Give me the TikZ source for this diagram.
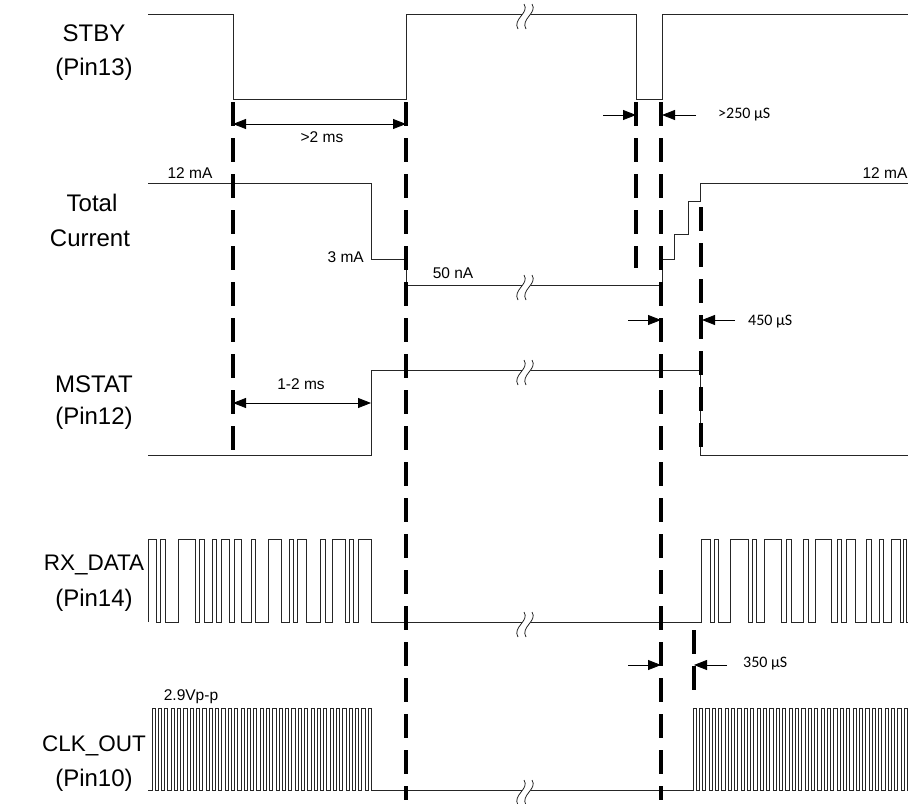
\documentclass[tikz,border=0pt]{standalone}
\usepackage{fontspec}
\setmainfont{Liberation Sans}
\newfontfamily\calfont{Carlito}
\usetikzlibrary{arrows.meta}
\begin{document}
\begin{tikzpicture}[x=1pt,y=-1pt,
  sig/.style={line width=1pt, black!85, line join=miter},
  dsh/.style={line width=3.2pt, black, dash pattern=on 23.5pt off 12.5pt},
  lab/.style={font=\fontsize{24}{28}\selectfont, inner sep=0pt},
  labn/.style={font=\fontsize{22.5}{28}\selectfont, inner sep=0pt},
  small/.style={font=\fontsize{15.5}{18}\selectfont, inner sep=0pt},
  usl/.style={font=\calfont\fontsize{16}{18}\selectfont, inner sep=0pt, anchor=west},
  dim/.style={line width=0.8pt, -{Triangle[length=13pt,width=10pt]}},
  ddim/.style={line width=0.8pt, {Triangle[length=13pt,width=10pt]}-{Triangle[length=13pt,width=10pt]}},
  brk/.pic={
    \fill[white] (3,-10) .. controls (9,-1) and (-9,5) .. (-3,15) -- (5,15) .. controls (-1,5) and (17,-1) .. (11,-10) -- cycle;
    \draw[line width=0.8pt, black!85] (3,-10) .. controls (9,-1) and (-9,5) .. (-3,15);
    \draw[line width=0.8pt, black!85] (11,-10) .. controls (17,-1) and (-1,5) .. (5,15);
  }
]
\useasboundingbox (0,0) rectangle (910,803);

% labels
\node[lab] (l1a) at (94,33) {STBY};
\node[lab] (l1b) at (94,69) {(Pin13)};
\node[lab] (l2a) at (92,203) {Total};
\node[lab] (l2b) at (90,238) {Current};
\node[lab] (l3a) at (94,384) {MSTAT};
\node[lab] (l3b) at (94,418) {(Pin12)};
\node[labn] (l4a) at (94,565) {RX\_DATA};
\node[lab] (l4b) at (94,600) {(Pin14)};
\node[labn] (l5a) at (94,746) {CLK\_OUT};
\node[lab] (l5b) at (94,780) {(Pin10)};

% STBY
\draw[sig] (148,14) -- (233,14) -- (233,99) -- (406,99) -- (406,14) -- (636,14) -- (636,99) -- (662,99) -- (662,14) -- (908,14);
% Total current
\draw[sig] (148,183) -- (371,183) -- (371,259) -- (406,259) -- (406,285) -- (662,285) -- (662,259) -- (674,259) -- (674,234) -- (688,234) -- (688,201) -- (700,201) -- (700,183) -- (908,183);
% MSTAT
\draw[sig] (148,455) -- (371,455) -- (371,370) -- (700,370) -- (700,455) -- (908,455);
% RX_DATA
\draw[sig] (148.3,622)
  \foreach \a/\b in {148.3/156.7, 160.7/165, 178.3/195, 199.3/204, 212.7/216.7, 221/229.3, 234/241.7, 251/255, 268.3/281, 289.3/293.3, 297.7/306.7, 320/325, 332.7/345, 349.3/353.3, 358.3/371.7}
  { -- (\a,622) -- (\a,539) -- (\b,539) -- (\b,622) }
  \foreach \a/\b in {701.7/710, 714/718.3, 730/748.3, 752.7/756.7, 764/781.7, 786/791.7, 803.3/808.3, 815/831.7, 837/841.7, 846.7/855, 866.7/871.7, 879/883.3, 891.7/900, 903/906}
  { -- (\a,622) -- (\a,539) -- (\b,539) -- (\b,622) }
  -- (908,622);
% CLK_OUT
\draw[sig] (148,790)
  \foreach \k in {0,...,34} { -- ({152+\k*6.36},790) -- ({152+\k*6.36},708) -- ({155.2+\k*6.36},708) -- ({155.2+\k*6.36},790) }
  \foreach \k in {0,...,33} { -- ({693+\k*6.4},790) -- ({693+\k*6.4},708) -- ({696.2+\k*6.4},708) -- ({696.2+\k*6.4},790) }
  -- (908,790);

% breaks
\pic at (521,14) {brk};
\pic at (521,285) {brk};
\pic at (521,370) {brk};
\pic at (521,622) {brk};
\pic at (521,790) {brk};

% dashed lines
\coordinate (d1t) at (233,102); \coordinate (d1b) at (233,455);
\coordinate (d2t) at (406,102); \coordinate (d2b) at (406,800);
\coordinate (d3t) at (636,102); \coordinate (d3b) at (636,268);
\coordinate (d4t) at (661,102); \coordinate (d4b) at (661,800);
\coordinate (d5t) at (701,207); \coordinate (d5b) at (701,455);
\coordinate (d6t) at (694,630); \coordinate (d6b) at (694,690);
\draw[dsh] (d1t) -- (d1b);
\draw[dsh] (d2t) -- (d2b);
\draw[dsh] (d3t) -- (d3b);
\draw[dsh] (d4t) -- (d4b);
\draw[dsh] (d5t) -- (d5b);
\draw[dsh] (d6t) -- (d6b);

% dimension arrows
\coordinate (a1l) at (233,124); \coordinate (a1r) at (406,124);
\draw[ddim] (a1l) -- (a1r);
\node[small] (t1) at (322,137) {>2 ms};
\coordinate (a2l) at (233,403); \coordinate (a2r) at (371,403);
\draw[ddim] (a2l) -- (a2r);
\node[small] (t2) at (301,384) {1-2 ms};

\coordinate (b1s) at (603,115); \coordinate (b1e) at (636,115);
\coordinate (b2s) at (696,115); \coordinate (b2e) at (662,115);
\draw[dim] (b1s) -- (b1e);
\draw[dim] (b2s) -- (b2e);
\node[usl] (t3) at (718,115) {>250 µS};

\coordinate (c1s) at (628,320); \coordinate (c1e) at (661,320);
\coordinate (c2s) at (735,320); \coordinate (c2e) at (702,320);
\draw[dim] (c1s) -- (c1e);
\draw[dim] (c2s) -- (c2e);
\node[usl] (t4) at (748,322) {450 µS};

\coordinate (e1s) at (628,665); \coordinate (e1e) at (661,665);
\coordinate (e2s) at (727,665); \coordinate (e2e) at (694,665);
\draw[dim] (e1s) -- (e1e);
\draw[dim] (e2s) -- (e2e);
\node[usl] (t5) at (743,664) {350 µS};

% value labels
\node[small] (v1) at (190,173) {12 mA};
\node[small] (v2) at (885,173) {12 mA};
\node[small, anchor=east] (v3) at (364,257) {3 mA};
\node[small] (v4) at (453,273) {50 nA};
\node[small] (v5) at (191,697) {2.9Vp-p};
\end{tikzpicture}
\end{document}
